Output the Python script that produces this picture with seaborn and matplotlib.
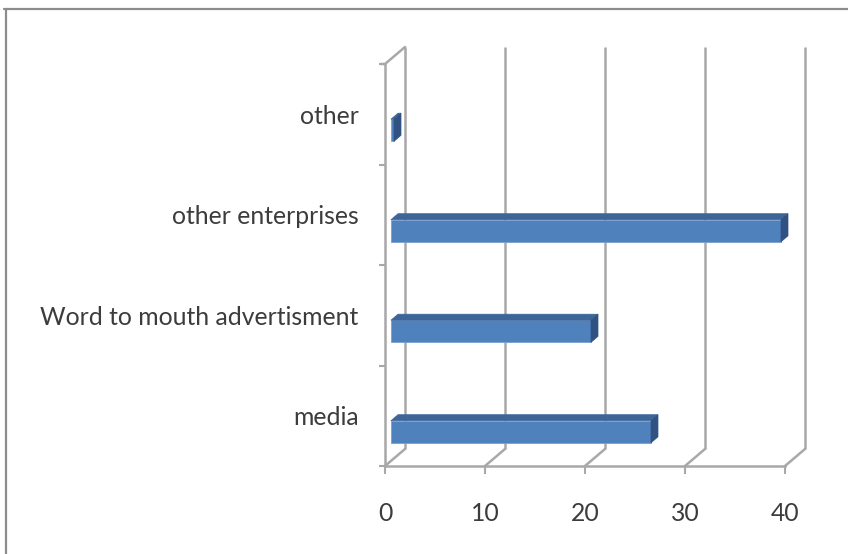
import matplotlib
matplotlib.use("Agg")
import matplotlib.pyplot as plt
import seaborn as sns
import pandas as pd
from matplotlib.patches import Polygon
from matplotlib.lines import Line2D
from matplotlib.transforms import ScaledTranslation, IdentityTransform

# Sources through which customers learned about the enterprise
categories = ["other", "other enterprises", "Word to mouth advertisment", "media"]
values = [0.3, 39, 20, 26]
x_ticks = [0, 10, 20, 30, 40]

sns.set_theme(style="white")
plt.rcParams["font.family"] = ["Lato", "DejaVu Sans"]

W, H, DPI = 848, 554, 100
TEXT = "#3c3c3c"
GRID = "#a8a8a8"
FRONT = "#4f81bd"
TOP = "#3d6598"
SIDE = "#2f5282"
FONT_SIZE = 17.8

# depth of the 3-D box (pixels) and placement of the bars inside it
DX, DY = 20, 17
BAR_DX, BAR_DY = 6, -16
BAR_DEPTH_X, BAR_DEPTH_Y = 7, 6

fig = plt.figure(figsize=(W / DPI, H / DPI), dpi=DPI)
fig.patch.set_facecolor("white")
ax = fig.add_axes([385 / W, 1 - 466 / H, 400 / W, 402 / H])
ax.set_facecolor("none")

df = pd.DataFrame({"source": categories, "count": values})
sns.barplot(data=df, x="count", y="source", orient="h", color=FRONT,
            saturation=1, width=0.22, ax=ax, zorder=3)

ax.set_xlim(0, 40)
ax.set_ylim(len(categories) - 0.5, -0.5)
fig.canvas.draw()

# shift bars inside the box and give them a top and side face
bar_shift = ScaledTranslation(BAR_DX / DPI, BAR_DY / DPI, fig.dpi_scale_trans)
for p in list(ax.patches):
    p.set_transform(ax.transData + bar_shift)
    p.set_edgecolor("#7aa0d0")
    p.set_linewidth(0.6)
    p.set_clip_on(False)
    x0, y0 = p.get_x(), p.get_y()
    w, h = p.get_width(), p.get_height()
    (a, b), (c, d) = ax.transData.transform([(x0, y0 + h), (x0 + w, y0)])
    a += BAR_DX; c += BAR_DX; b += BAR_DY; d += BAR_DY
    lo, hi = min(b, d), max(b, d)
    top = Polygon([(a, hi), (c, hi), (c + BAR_DEPTH_X, hi + BAR_DEPTH_Y),
                   (a + BAR_DEPTH_X, hi + BAR_DEPTH_Y)],
                  closed=True, facecolor=TOP, edgecolor=TOP, lw=0.5,
                  transform=IdentityTransform(), clip_on=False, zorder=3)
    side = Polygon([(c, lo), (c, hi), (c + BAR_DEPTH_X, hi + BAR_DEPTH_Y),
                    (c + BAR_DEPTH_X, lo + BAR_DEPTH_Y)],
                   closed=True, facecolor=SIDE, edgecolor=SIDE, lw=0.5,
                   transform=IdentityTransform(), clip_on=False, zorder=3)
    fig.add_artist(top)
    fig.add_artist(side)

# back wall gridlines
back = ax.transData + ScaledTranslation(DX / DPI, DY / DPI, fig.dpi_scale_trans)
ylo, yhi = ax.get_ylim()
for xv in x_ticks:
    ax.plot([xv, xv], [ylo, yhi], color=GRID, lw=1.8, transform=back,
            clip_on=False, zorder=1, solid_capstyle="butt")
    # floor diagonals
    (fx, fy), = ax.transData.transform([(xv, ylo)])
    fig.add_artist(Line2D([fx, fx + DX], [fy, fy + DY], color=GRID, lw=1.8,
                          transform=IdentityTransform()))
# left wall top edge
(tx, ty), = ax.transData.transform([(0, yhi)])
fig.add_artist(Line2D([tx - 4, tx, tx + DX], [ty, ty, ty + DY], color=GRID,
                      lw=1.8, transform=IdentityTransform()))

# axes styling
for s in ["top", "right"]:
    ax.spines[s].set_visible(False)
for s in ["left", "bottom"]:
    ax.spines[s].set_color(GRID)
    ax.spines[s].set_linewidth(1.8)
    ax.spines[s].set_zorder(2)

ax.set_xticks(x_ticks)
ax.set_xticklabels([str(t) for t in x_ticks])
ax.set_yticks(range(len(categories)))
ax.set_yticklabels(categories)
ax.set_yticks([i - 0.5 for i in range(len(categories) + 1)], minor=True)
ax.tick_params(axis="x", length=6, width=1.5, color=GRID, direction="out",
               pad=20, labelsize=FONT_SIZE, labelcolor=TEXT, bottom=True)
ax.tick_params(axis="y", which="major", length=0, pad=19, labelsize=FONT_SIZE,
               labelcolor=TEXT, left=False)
ax.tick_params(axis="y", which="minor", length=4, width=1.5, color=GRID,
               direction="out", left=True)
ax.set_xlabel("")
ax.set_ylabel("")
ax.grid(False)

# chart area frame
fig.add_artist(Line2D([4, W], [H - 9, H - 9], color="#8c8c8c", lw=1.6,
                      transform=IdentityTransform()))
fig.add_artist(Line2D([6, 6], [0, H - 9], color="#8c8c8c", lw=1.6,
                      transform=IdentityTransform()))

fig.savefig("out.png", dpi=DPI, facecolor="white")
